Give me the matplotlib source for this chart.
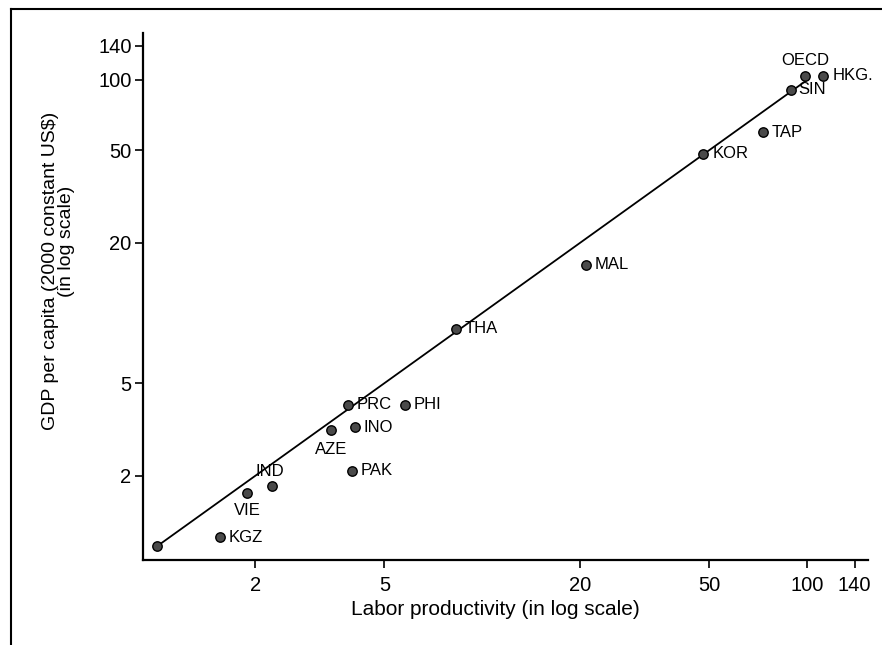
import matplotlib
matplotlib.use("Agg")
from matplotlib import pyplot as plt
from matplotlib.lines import Line2D

plt.rcParams["font.family"] = ["Liberation Sans", "DejaVu Sans"]

# values (labor productivity vs GDP per capita, both log scale)
economies = ["", "KGZ", "VIE", "IND", "AZE", "PRC", "INO", "PAK", "PHI", "THA",
             "MAL", "KOR", "TAP", "SIN", "OECD", "HKG."]
productivity = [1.0, 1.56, 1.89, 2.26, 3.43, 3.86, 4.06, 3.97, 5.79, 8.31,
                20.8, 47.9, 73.0, 89.2, 98.7, 112.0]
gdp_per_capita = [1.0, 1.09, 1.69, 1.81, 3.14, 4.05, 3.24, 2.10, 4.05, 8.58,
                  16.1, 48.2, 59.7, 90.8, 103.9, 104.0]

# 45-degree reference line
line_x = [1, 100]
line_y = [1, 100]

tick_vals = [2, 5, 20, 50, 100, 140]
tick_labels = ["2", "5", "20", "50", "100", "140"]

# where each label sits relative to its marker (pixels) and its alignment
label_pos = {
    "VIE": (0, -18, "center"),
    "IND": (-3, 15, "center"),
    "AZE": (0, -19, "center"),
    "OECD": (0, 16, "center"),
    "SIN": (7, 0, "left"),
}

fig = plt.figure(figsize=(8.82, 6.45), dpi=100)
ax = fig.add_axes([0.1618, 0.1313, 0.822, 0.8175])

ax.plot(line_x, line_y, color="black", lw=1.3, zorder=2)
ax.scatter(productivity, gdp_per_capita, s=46, facecolor="#4a4a4a",
           edgecolor="black", linewidth=1.0, zorder=3)

for name, x, y in zip(economies, productivity, gdp_per_capita):
    if not name:
        continue
    dx, dy, ha = label_pos.get(name, (9, 0, "left"))
    ax.annotate(name, (x, y), xytext=(dx, dy), textcoords="offset pixels",
                ha=ha, va="center", fontsize=12, color="black")

ax.set_xscale("log")
ax.set_yscale("log")
ax.set_xlim(0.902, 153.6)
ax.set_ylim(0.869, 159)
ax.set_xticks(tick_vals, labels=tick_labels)
ax.set_yticks(tick_vals, labels=tick_labels)
ax.minorticks_off()

for side in ["top", "right"]:
    ax.spines[side].set_visible(False)
for side in ["left", "bottom"]:
    ax.spines[side].set_linewidth(1.6)
ax.tick_params(direction="out", length=6, width=1.2, labelsize=14.5)
ax.tick_params(axis="x", pad=5)
ax.tick_params(axis="y", pad=2)

ax.set_xlabel("Labor productivity (in log scale)", fontsize=15)
ax.xaxis.set_label_coords(0.486, -0.075)

# y label: two lines, not centred on each other in the original
fig.text(50.5 / 882, 1 - 271 / 645, "GDP per capita (2000 constant US$)",
         rotation=90, ha="center", va="center", fontsize=14)
fig.text(66.5 / 882, 1 - 241 / 645, "(in log scale)",
         rotation=90, ha="center", va="center", fontsize=14)

# border of the scanned page
fig.add_artist(Line2D([11 / 882, 1], [1 - 9 / 645] * 2, color="black", lw=1.5))
fig.add_artist(Line2D([11 / 882] * 2, [0, 1 - 9 / 645], color="black", lw=1.5))

fig.savefig("out.png", dpi=100)
